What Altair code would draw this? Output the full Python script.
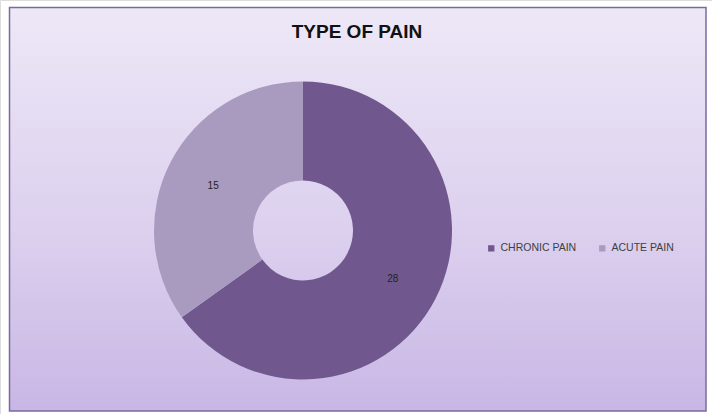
import altair as alt
import pandas as pd

categories = ["CHRONIC PAIN", "ACUTE PAIN"]
values = [28, 15]
order = [0, 1]
colors = ["#70588F", "#A99BBF"]

df = pd.DataFrame({"type": categories, "count": values, "ord": order})

W, H = 712, 414
cx, cy = 303, 230.5

bg = alt.Chart(pd.DataFrame({"a": [0]})).mark_rect(
    color=alt.Gradient(
        gradient="linear",
        stops=[alt.GradientStop(color="#EDE8F7", offset=0),
               alt.GradientStop(color="#DCD0EE", offset=0.55),
               alt.GradientStop(color="#C8B7E5", offset=1)],
        x1=0, x2=0, y1=0, y2=1),
    stroke="#7B6A9E", strokeWidth=1.5,
).encode(x=alt.value(9.5), x2=alt.value(706), y=alt.value(7.5), y2=alt.value(411))

title = alt.Chart(pd.DataFrame({"t": ["TYPE OF PAIN"]})).mark_text(
    font="Liberation Sans", fontSize=19, fontWeight="bold", color="#111111",
    align="center", baseline="middle",
).encode(text="t:N", x=alt.value(357), y=alt.value(32))

base = alt.Chart(df).encode(
    theta=alt.Theta("count:Q", stack=True),
    order=alt.Order("ord:Q"),
)

arcs = base.mark_arc(outerRadius=149, innerRadius=50, stroke=None).encode(
    color=alt.Color(
        "type:N",
        scale=alt.Scale(domain=categories, range=colors),
        sort=categories,
        legend=alt.Legend(
            title=None, orient="none", legendX=486, legendY=243,
            direction="horizontal", symbolType="square", symbolSize=40,
            symbolStrokeWidth=0, labelFontSize=10.5, labelColor="#404040",
            labelFont="Liberation Sans", columnPadding=20, labelOffset=4,
        ),
    ),
    x=alt.value(cx), y=alt.value(cy),
)

labels = base.mark_text(radius=101, fontSize=10, color="#222222", dy=2,
                        font="Liberation Sans").encode(
    text="count:Q", x=alt.value(cx), y=alt.value(cy),
)

chart = alt.layer(bg, title, arcs, labels).properties(
    width=W, height=H,
    autosize=alt.AutoSizeParams(type="none"),
    padding=0,
).configure_view(stroke=None).configure(background="white")

chart.save("out.html", embed_options={"renderer": "svg", "actions": False})
